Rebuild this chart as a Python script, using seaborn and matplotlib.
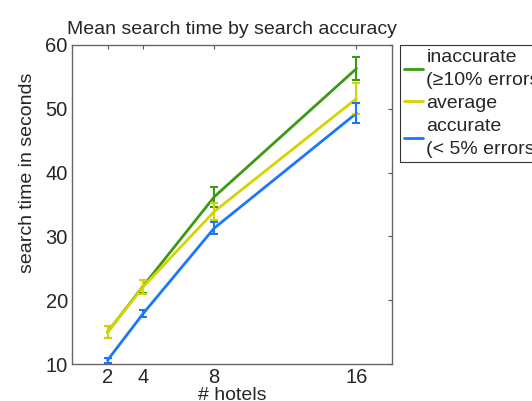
import pandas as pd
import seaborn as sns
import matplotlib
matplotlib.use("Agg")
import matplotlib.pyplot as plt

hotels = [2, 4, 8, 16]
groups = ["inaccurate\n(\u226510% errors)", "average", "accurate\n(< 5% errors)"]
inaccurate = [15.0, 22.2, 36.2, 56.3]
inaccurate_err = [0.9, 1.0, 1.6, 1.75]
average = [15.0, 22.1, 33.9, 51.6]
average_err = [1.0, 1.1, 1.3, 2.4]
accurate = [10.6, 17.9, 31.3, 49.3]
accurate_err = [0.4, 0.55, 0.95, 1.55]
colors = ["#3a9a14", "#d4d400", "#1a78ff"]

rows = []
for g, vals, errs in zip(groups, [inaccurate, average, accurate],
                         [inaccurate_err, average_err, accurate_err]):
    for h, v, e in zip(hotels, vals, errs):
        rows.append({"hotels": h, "time": v, "err": e, "group": g})
df = pd.DataFrame(rows)

sns.set_style("white")
plt.rcParams["font.family"] = ["Liberation Sans", "DejaVu Sans"]

fig = plt.figure(figsize=(5.32, 4.01), dpi=100)
ax = fig.add_axes([72 / 532, 1 - 364 / 401, 320 / 532, 319 / 401])

palette = dict(zip(groups, colors))
sns.lineplot(data=df, x="hotels", y="time", hue="group", hue_order=groups,
             palette=palette, linewidth=2, ax=ax)
for g in groups:
    sub = df[df["group"] == g]
    ax.errorbar(sub["hotels"], sub["time"], yerr=sub["err"], fmt="none",
                ecolor=palette[g], elinewidth=1.5, capsize=3, capthick=1.5)

ax.set_xlim(0, 18)
ax.set_ylim(10, 60)
ax.set_xticks(hotels)
ax.set_yticks([10, 20, 30, 40, 50, 60])
ax.tick_params(direction="in", top=True, right=True, length=3, width=0.8,
               labelsize=14.5, color="#555555", pad=3)
for s in ax.spines.values():
    s.set_color("#666666")
    s.set_linewidth(1)

ax.set_xlabel("# hotels", fontsize=14, labelpad=0)
ax.set_ylabel("search time in seconds", fontsize=14)
ax.yaxis.set_label_coords(-0.112, 0.60)
ax.set_title("Mean search time by search accuracy", fontsize=14, pad=8)

leg = ax.legend(loc="upper left", bbox_to_anchor=(1.025, 1.0), borderaxespad=0,
                fontsize=14, frameon=True, fancybox=False, edgecolor="black",
                handlelength=1.0, handletextpad=0.15, labelspacing=0.3,
                borderpad=0.2)
leg.get_frame().set_linewidth(0.8)
for t in leg.get_texts():
    t.set_linespacing(1.45)

fig.savefig("out.png", dpi=100)
